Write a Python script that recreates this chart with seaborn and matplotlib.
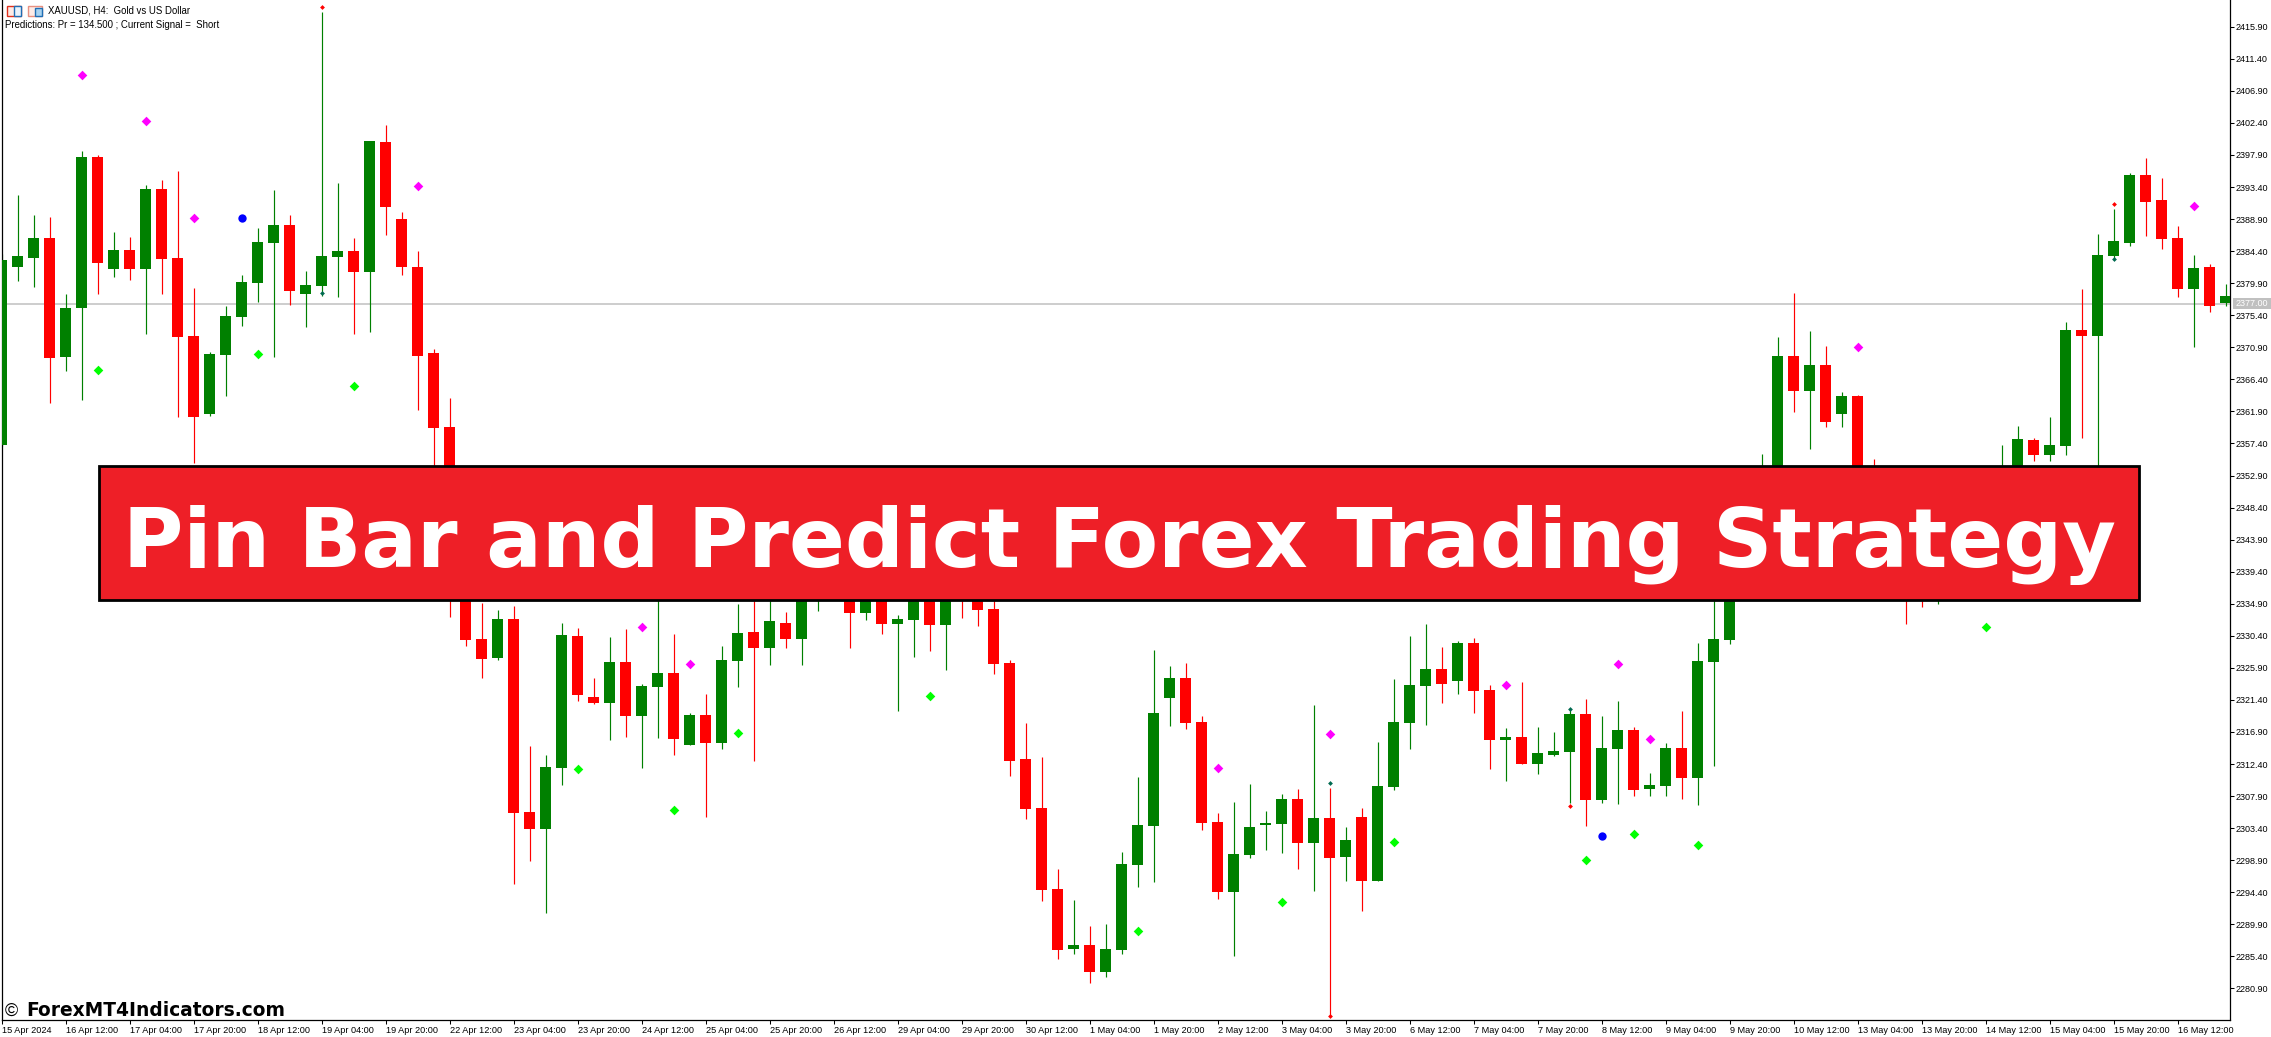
import matplotlib
matplotlib.use("Agg")
import matplotlib.pyplot as plt
from matplotlib.patches import Rectangle
import numpy as np
import pandas as pd
import seaborn as sns

W, H = 2271, 1037

opens = [2357.2,2382.2,2383.4,2386.2,2369.5,2376.4,2397.6,2381.9,2384.6,2381.9,
         2393.1,2383.4,2372.5,2361.5,2369.8,2375.2,2379.9,2385.5,2388.1,2378.4,
         2379.5,2383.6,2384.4,2381.5,2399.7,2388.9,2382.2,2370.1,2359.7,2342.0,
         2329.9,2327.3,2332.7,2305.7,2303.3,2311.8,2330.4,2321.8,2321.0,2326.7,
         2319.1,2323.2,2325.2,2315.1,2319.3,2315.3,2326.9,2330.9,2328.7,2332.2,
         2329.9,2336.0,2341.0,2338.0,2333.6,2337.0,2332.0,2332.6,2337.0,2331.9,
         2340.0,2339.0,2334.2,2326.6,2313.1,2306.2,2294.8,2286.4,2287.0,2283.2,
         2286.3,2298.2,2303.7,2321.7,2324.5,2318.3,2304.3,2294.4,2299.6,2303.8,
         2304.0,2307.5,2301.3,2304.8,2299.3,2305.0,2296.0,2309.2,2318.2,2323.3,
         2325.7,2324.0,2329.4,2322.8,2315.8,2316.2,2312.4,2313.7,2314.1,2319.4,
         2307.3,2314.5,2317.2,2308.9,2309.3,2314.6,2310.4,2326.7,2329.8,2342.0,
         2345.0,2350.0,2369.7,2364.8,2368.4,2361.5,2364.1,2350.0,2344.0,2346.0,
         2345.0,2338.0,2343.0,2347.0,2344.0,2346.0,2350.0,2357.9,2355.8,2357.0,
         2373.3,2372.5,2383.7,2385.5,2395.1,2391.6,2386.2,2379.1,2382.2,2377.1]
highs = [2384.0,2392.3,2389.5,2389.2,2378.4,2398.5,2397.9,2387.1,2386.4,2393.7,
         2394.4,2395.6,2379.2,2370.2,2376.7,2381.0,2387.6,2393.0,2389.5,2381.6,
         2417.9,2394.0,2386.2,2399.9,2402.1,2389.9,2384.4,2370.7,2363.8,2345.0,
         2335.0,2334.0,2334.6,2314.9,2313.7,2332.2,2331.5,2324.5,2330.2,2331.3,
         2323.6,2340.0,2330.6,2319.6,2322.2,2329.0,2334.9,2338.0,2338.0,2333.7,
         2342.0,2343.0,2343.0,2340.0,2339.0,2339.0,2333.3,2339.0,2339.0,2340.0,
         2342.0,2341.0,2340.0,2327.0,2318.2,2313.4,2297.7,2293.3,2289.7,2289.9,
         2300.0,2310.6,2328.4,2326.2,2326.6,2319.1,2305.5,2307.1,2309.6,2305.8,
         2308.2,2308.9,2320.7,2309.0,2303.6,2306.2,2315.5,2324.3,2330.4,2332.0,
         2328.8,2329.7,2330.1,2323.5,2317.4,2323.9,2317.6,2316.9,2320.0,2321.5,
         2319.1,2321.2,2317.6,2311.1,2315.3,2319.8,2329.4,2340.0,2345.0,2350.0,
         2355.9,2372.3,2378.5,2373.2,2371.1,2364.6,2364.2,2355.2,2350.0,2350.0,
         2348.0,2346.0,2349.0,2349.0,2351.0,2357.2,2359.9,2358.2,2361.1,2374.4,
         2379.1,2386.8,2390.3,2395.4,2397.5,2394.7,2387.9,2383.9,2382.6,2379.8]
lows = [2357.0,2380.2,2379.4,2363.1,2367.6,2363.5,2378.4,2380.8,2380.3,2372.8,
        2378.4,2361.1,2354.7,2361.3,2364.1,2373.9,2377.3,2369.5,2376.8,2373.7,
        2378.1,2378.0,2372.8,2373.0,2386.7,2381.0,2362.1,2350.0,2333.0,2329.0,
        2324.5,2327.0,2295.5,2298.8,2291.5,2309.4,2321.2,2320.8,2315.8,2316.2,
        2311.8,2316.0,2313.7,2315.1,2305.0,2314.5,2323.2,2312.8,2326.3,2328.7,
        2326.3,2333.9,2336.0,2328.7,2332.6,2330.6,2319.8,2327.4,2328.3,2325.6,
        2332.9,2331.8,2325.0,2310.7,2304.7,2293.2,2285.0,2285.7,2281.6,2282.5,
        2285.7,2295.1,2295.8,2317.7,2317.3,2303.1,2293.4,2285.4,2299.2,2300.3,
        2299.9,2297.7,2294.6,2277.0,2296.0,2291.8,2296.0,2308.7,2314.5,2317.9,
        2321.0,2322.2,2319.6,2311.7,2310.0,2312.4,2311.0,2313.6,2306.9,2303.7,
        2307.0,2306.8,2307.9,2307.9,2307.9,2307.5,2306.6,2312.1,2329.2,2338.0,
        2340.0,2345.0,2361.8,2356.6,2359.7,2359.7,2340.0,2340.0,2340.0,2332.0,
        2334.4,2334.9,2340.0,2341.0,2342.0,2343.0,2347.0,2354.9,2354.9,2355.8,
        2358.2,2345.0,2383.2,2385.1,2386.5,2384.7,2378.0,2370.9,2375.9,2376.7]
closes = [2383.2,2383.7,2386.2,2369.4,2376.4,2397.6,2382.7,2384.6,2381.9,2393.1,
          2383.3,2372.3,2361.1,2370.0,2375.3,2380.1,2385.7,2388.1,2378.8,2379.6,
          2383.7,2384.4,2381.5,2399.9,2390.6,2382.2,2369.7,2359.6,2342.0,2329.8,
          2327.1,2332.7,2305.5,2303.3,2312.0,2330.5,2322.1,2321.0,2326.7,2319.1,
          2323.3,2325.2,2315.9,2319.3,2315.3,2327.0,2330.8,2328.7,2332.5,2329.9,
          2338.0,2341.0,2338.0,2333.6,2337.0,2332.0,2332.7,2337.0,2331.9,2337.0,
          2337.0,2334.0,2326.4,2312.8,2306.1,2294.7,2286.3,2287.0,2283.2,2286.4,
          2298.4,2303.8,2319.6,2324.5,2318.2,2304.1,2294.4,2299.8,2303.6,2304.1,
          2307.5,2301.3,2304.8,2299.2,2301.7,2296.0,2309.3,2318.3,2323.5,2325.7,
          2323.6,2329.4,2322.6,2315.8,2316.2,2312.4,2313.9,2314.2,2319.4,2307.3,
          2314.6,2317.2,2308.7,2309.4,2314.6,2310.4,2326.9,2329.9,2342.0,2347.0,
          2350.0,2369.7,2364.8,2368.4,2360.4,2364.1,2346.0,2344.0,2347.0,2340.0,
          2340.0,2343.0,2347.0,2344.0,2349.0,2351.0,2358.0,2355.8,2357.2,2373.3,
          2372.5,2383.9,2385.8,2395.1,2391.3,2386.1,2379.1,2382.0,2376.7,2378.1]

magenta_idx = [5,9,12,26,40,43,76,83,94,101,103,116,137]
magenta_val = [2409.1,2402.6,2389.1,2393.6,2331.6,2326.5,2311.9,2316.6,2323.5,2326.5,2315.9,2370.9,2390.8]
lime_idx = [6,16,22,36,42,46,58,71,80,87,99,102,106,124]
lime_val = [2367.7,2370.0,2365.4,2311.7,2306.0,2316.8,2322.0,2289.0,2293.1,2301.4,2299.0,2302.6,2301.0,2331.7]
blue_idx = [15,100]
blue_val = [2389.0,2302.3]
pin_red_idx = [20,83,98,132]
pin_red_val = [2418.6,2277.0,2306.5,2391.0]
pin_dark_idx = [20,83,98,132]
pin_dark_val = [2378.5,2309.7,2320.1,2383.3]

current_price = 2377.0
y_ticks = [2415.9,2411.4,2406.9,2402.4,2397.9,2393.4,2388.9,2384.4,2379.9,2375.4,2370.9,
           2366.4,2361.9,2357.4,2352.9,2348.4,2343.9,2339.4,2334.9,2330.4,2325.9,2321.4,
           2316.9,2312.4,2307.9,2303.4,2298.9,2294.4,2289.9,2285.4,2280.9]
x_tick_idx = list(range(0, 140, 4))
x_tick_labels = ["15 Apr 2024","16 Apr 12:00","17 Apr 04:00","17 Apr 20:00","18 Apr 12:00",
                 "19 Apr 04:00","19 Apr 20:00","22 Apr 12:00","23 Apr 04:00","23 Apr 20:00",
                 "24 Apr 12:00","25 Apr 04:00","25 Apr 20:00","26 Apr 12:00","29 Apr 04:00",
                 "29 Apr 20:00","30 Apr 12:00","1 May 04:00","1 May 20:00","2 May 12:00",
                 "3 May 04:00","3 May 20:00","6 May 12:00","7 May 04:00","7 May 20:00",
                 "8 May 12:00","9 May 04:00","9 May 20:00","10 May 12:00","13 May 04:00",
                 "13 May 20:00","14 May 12:00","15 May 04:00","15 May 20:00","16 May 12:00"]

sns.set_theme(style="white")
plt.rcParams["font.family"] = ["Liberation Sans", "DejaVu Sans"]

fig = plt.figure(figsize=(W / 100, H / 100), dpi=100, facecolor="white")


def fx(x):
    return x / W


def fy(y):
    return 1 - y / H


ax = fig.add_axes([fx(1.5), fy(1020), fx(2230.3 - 1.5), 1020 / H])
ax.set_facecolor("white")
ax.set_xlim(0, (2230.3 - 1.5) / 16)
ax.set_ylim(2419.65 - 1020 / 7.124, 2419.65)

ax.axhline(current_price, color="#C0C0C0", lw=1.1, zorder=1)

x = np.arange(len(opens))
o, h, l, c = map(np.array, (opens, highs, lows, closes))
up = c >= o
colors = np.where(up, "#008000", "#FF0000")
ax.vlines(x, l, h, colors=colors, lw=0.85, zorder=2)
ax.bar(x, np.abs(c - o), bottom=np.minimum(o, c), width=11 / 16, color=colors,
       linewidth=0, zorder=3)

markers = pd.DataFrame({
    "i": magenta_idx + lime_idx + blue_idx + pin_red_idx + pin_dark_idx,
    "price": magenta_val + lime_val + blue_val + pin_red_val + pin_dark_val,
    "kind": ["magenta"] * len(magenta_idx) + ["lime"] * len(lime_idx) + ["blue"] * len(blue_idx)
            + ["pin_red"] * len(pin_red_idx) + ["pin_dark"] * len(pin_dark_idx),
})
styles = {
    "magenta": ("#FF00FF", "D", 24),
    "lime": ("#00FF00", "D", 24),
    "blue": ("#0000FF", "o", 36),
    "pin_red": ("#FF0000", "D", 6),
    "pin_dark": ("#006A50", "D", 6),
}
for kind, (col, mk, size) in styles.items():
    sns.scatterplot(data=markers[markers["kind"] == kind], x="i", y="price", color=col,
                    marker=mk, s=size, linewidth=0, ax=ax, zorder=4, legend=False)

ax.set_xlabel("")
ax.set_ylabel("")
ax.yaxis.tick_right()
ax.set_yticks(y_ticks)
ax.set_yticklabels([f"{v:.2f}" for v in y_ticks])
ax.set_xticks(x_tick_idx)
ax.set_xticklabels(x_tick_labels, ha="left")
ax.tick_params(axis="y", which="major", right=True, length=3.2, width=0.75, pad=0.8,
               labelsize=6.5, colors="black")
ax.tick_params(axis="x", which="major", bottom=True, length=3, width=0.75, pad=1.5,
               labelsize=6.55, colors="black")
for side in ("left", "bottom", "right"):
    ax.spines[side].set_visible(True)
    ax.spines[side].set_color("black")
    ax.spines[side].set_linewidth(0.9)
ax.spines["top"].set_visible(False)

# current price tag
fig.add_artist(Rectangle((fx(2233), fy(308.5)), fx(38), 10.5 / H, transform=fig.transFigure,
                         facecolor="#C0C0C0", edgecolor="none", zorder=5))
fig.text(fx(2235.5), fy(303.5), f"{current_price:.2f}", color="white", fontsize=6.5,
         va="center", ha="left", zorder=6)

# header icons
for x0, col in ((6.5, "#E0301E"), (28, "#E89080")):
    fig.add_artist(Rectangle((fx(x0), fy(16)), fx(14), 10.5 / H, transform=fig.transFigure,
                             facecolor="#FDEBE6", edgecolor=col, lw=1.0, zorder=5))
fig.add_artist(Rectangle((fx(14), fy(16)), fx(7), 10.5 / H, transform=fig.transFigure,
                         facecolor="#EAF2FA", edgecolor="#1F6FB5", lw=1.0, zorder=5))
fig.add_artist(Rectangle((fx(35), fy(16)), fx(7), 8 / H, transform=fig.transFigure,
                         facecolor="#A9D3F0", edgecolor="#1F6FB5", lw=1.0, zorder=5))

fig.text(fx(47.5), fy(10.5), "XAUUSD, H4:  Gold vs US Dollar", fontsize=6.9, va="center",
         ha="left", color="black", zorder=6)
fig.text(fx(5), fy(25.5), "Predictions: Pr = 134.500 ; Current Signal =  Short", fontsize=6.9,
         va="center", ha="left", color="black", zorder=6)

# banner
fig.add_artist(Rectangle((fx(99), fy(600)), fx(2139 - 99), (600 - 466) / H,
                         transform=fig.transFigure, facecolor="#EE1F27", edgecolor="black",
                         lw=2, zorder=7))
fig.text(fx(123), fy(566.7), "Pin Bar and Predict Forex Trading Strategy",
         family=["DejaVu Sans"], fontweight="bold", fontsize=59.3,
         color="white", va="baseline", ha="left", zorder=8)

# watermark
fig.text(fx(5), fy(1016), "©", family=["Liberation Sans", "DejaVu Sans"], fontsize=13,
         color="black", va="baseline", ha="left", zorder=6)
fig.text(fx(26.5), fy(1016), "ForexMT4Indicators.com", family=["DejaVu Sans"],
         fontweight="bold", fontsize=13.4, color="black", va="baseline", ha="left", zorder=6)

fig.savefig("out.png", dpi=100, facecolor="white")
